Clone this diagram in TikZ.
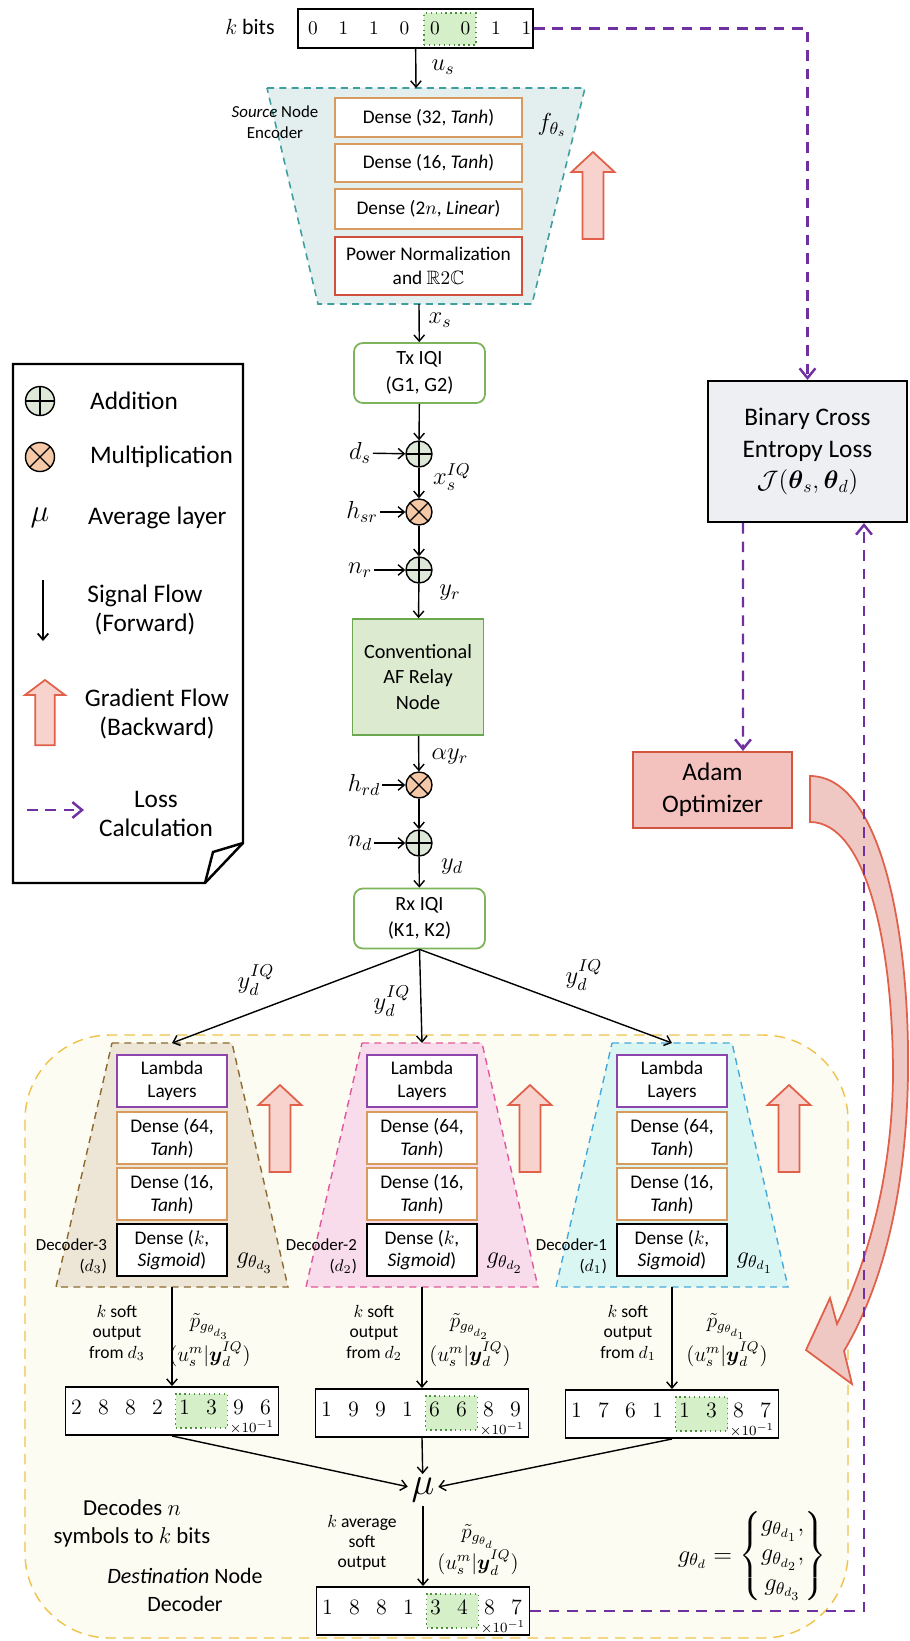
\RequirePackage{fix-cm}
\documentclass[tikz,border=0pt]{standalone}
\usepackage{amsmath}
\usepackage{amssymb}
\usepackage{fontspec}
\setmainfont{Carlito}
\usetikzlibrary{arrows.meta}
\definecolor{encfill}{HTML}{E3EFEF}
\definecolor{encbrd}{HTML}{3F9E9E}
\definecolor{densebrd}{HTML}{D99A5E}
\definecolor{powbrd}{HTML}{D0503C}
\definecolor{lambrd}{HTML}{8E44AD}
\definecolor{iqibrd}{HTML}{7DB35A}
\definecolor{relayfill}{HTML}{DCEBD0}
\definecolor{relaybrd}{HTML}{6AA84F}
\definecolor{addfill}{HTML}{DDE8D8}
\definecolor{mulfill}{HTML}{F5C9A8}
\definecolor{lossclr}{HTML}{7030A0}
\definecolor{bcefill}{HTML}{EEEFF2}
\definecolor{adamfill}{HTML}{F4C2BE}
\definecolor{adambrd}{HTML}{D2553F}
\definecolor{gradfill}{HTML}{F8D3CE}
\definecolor{gradbrd}{HTML}{E0604A}
\definecolor{curvfill}{HTML}{EFC7C3}
\definecolor{decfill}{HTML}{FDFCF2}
\definecolor{decbrd}{HTML}{F0C24A}
\definecolor{dthreefill}{HTML}{EDE6D6}
\definecolor{dthreebrd}{HTML}{8C6A30}
\definecolor{dtwofill}{HTML}{F9DCEB}
\definecolor{dtwobrd}{HTML}{E0589B}
\definecolor{donefill}{HTML}{DAF6F2}
\definecolor{donebrd}{HTML}{45AADB}
\definecolor{hlfill}{HTML}{D5F0C9}
\definecolor{hlbrd}{HTML}{4E8F3E}

\begin{document}
\begin{tikzpicture}[x=0.02cm,y=-0.02cm,
  sig/.style={-{Straight Barb[length=3.5pt,width=6pt]},line width=0.8pt},
  loss/.style={-{Straight Barb[length=5.5pt,width=9pt]},draw=lossclr,line width=1.4pt,dash pattern=on 6pt off 4.5pt},
  lbl/.style={font=\fontsize{14}{16}\selectfont,inner sep=1pt},
  side/.style={font=\fontsize{9.6}{12}\selectfont,inner sep=1pt,align=center},
  legtxt/.style={font=\fontsize{14.4}{17}\selectfont,inner sep=1pt},
  layer/.style={draw=densebrd,fill=white,line width=1pt,align=center,inner sep=1pt,minimum width=3.74cm,font=\fontsize{11}{13.5}\selectfont},
  declayer/.style={layer,minimum width=2.2cm,minimum height=1.04cm,font=\fontsize{11}{13}\selectfont},
  iqi/.style={draw=iqibrd,fill=white,rounded corners=5pt,line width=1pt,minimum width=2.62cm,minimum height=1.2cm,align=center,font=\fontsize{11.5}{15}\selectfont},
  addop/.style={circle,draw,fill=addfill,line width=0.8pt,minimum size=0.52cm,inner sep=0pt,path picture={\draw[line width=0.7pt] (path picture bounding box.north) -- (path picture bounding box.south) (path picture bounding box.west) -- (path picture bounding box.east);}},
  mulop/.style={circle,draw,fill=mulfill,line width=0.8pt,minimum size=0.52cm,inner sep=0pt,path picture={\draw[line width=0.7pt] (path picture bounding box.north west) -- (path picture bounding box.south east) (path picture bounding box.north east) -- (path picture bounding box.south west);}},
  outbox/.style={draw,fill=white,line width=1.1pt,minimum width=4.26cm,minimum height=0.96cm,inner sep=0pt},
  hlbox/.style={draw=hlbrd,fill=hlfill,dotted,line width=0.8pt,minimum width=1.04cm,minimum height=0.68cm,inner sep=0pt},
  digit/.style={font=\fontsize{12.5}{14}\selectfont,inner sep=0pt},
  gradup/.pic={\draw[draw=gradbrd,fill=gradfill,line width=1pt] (0,0) -- (21.5,20) -- (10.5,20) -- (10.5,87) -- (-10.5,87) -- (-10.5,20) -- (-21.5,20) -- cycle;}
]
\useasboundingbox (0,0) rectangle (910,1641);
\fill[white] (0,0) rectangle (910,1641);

\node[draw,line width=1.2pt,minimum width=4.7cm,minimum height=0.78cm,inner sep=0pt] (bits) at (415.5,28.5) {};
\node[hlbox,minimum height=0.64cm] (bitshl) at (450,29) {};
\foreach \bt [count=\i from 0] in {0,1,1,0,0,0,1,1}
  \node[digit,font=\fontsize{11}{13}\selectfont] at (313+30.5*\i,28) {$\bt$};
\node[font=\fontsize{12.5}{14}\selectfont] (kbits) at (250,27) {$k$ bits};

\draw[encbrd,fill=encfill,line width=0.9pt,dash pattern=on 4pt off 3pt] (267,88) -- (585,88) -- (532,304) -- (318,304) -- cycle;
\coordinate (enctop) at (416,88);
\coordinate (encbot) at (419,304);
\node[layer,minimum height=0.78cm] (dense32) at (428.5,117.5) {Dense (32, \textit{Tanh})};
\node[layer,minimum height=0.76cm] (dense16) at (428.5,163) {Dense (16, \textit{Tanh})};
\node[layer,minimum height=0.8cm] (dense2n) at (428.5,209) {Dense (2$n$, \textit{Linear})};
\node[layer,draw=powbrd,minimum height=1.16cm] (pownorm) at (428.5,266) {Power Normalization\\and $\mathbb{R}2\mathbb{C}$};
\node[side] (srclbl) at (275,122) {\textit{Source} Node\\Encoder};
\node[lbl] (fth) at (552,125) {$f_{\theta_s}$};
\pic at (593,152) {gradup};

\draw[sig] (bits) -- (enctop);
\node[lbl] (us) at (443,67) {$u_s$};
\node[iqi] (txiqi) at (419.5,373) {Tx IQI\\(G1, G2)};
\draw[sig] (encbot) -- (txiqi);
\node[lbl] (xs) at (440,320) {$x_s$};

\node[addop] (adds) at (419,454) {};
\node[mulop] (mulsr) at (419,512) {};
\node[addop] (addr) at (419,570) {};
\node[draw=relaybrd,fill=relayfill,line width=1pt,minimum width=2.62cm,minimum height=2.32cm,align=center,font=\fontsize{11.5}{14.7}\selectfont] (relay) at (418,677) {Conventional\\AF Relay\\Node};
\node[mulop] (mulrd) at (419,785) {};
\node[addop] (addd) at (419,843) {};
\node[iqi] (rxiqi) at (419.5,918.5) {Rx IQI\\(K1, K2)};

\draw[sig] (txiqi) -- (adds);
\draw[sig] (adds) -- (mulsr);
\draw[sig] (mulsr) -- (addr);
\draw[sig] (addr) -- (relay);
\draw[sig] (relay) -- (mulrd);
\draw[sig] (mulrd) -- (addd);
\draw[sig] (addd) -- (rxiqi);

\node[lbl] (ds) at (360,453) {$d_s$};
\node[lbl] (hsr) at (362,512) {$h_{sr}$};
\node[lbl] (nr) at (360,570) {$n_r$};
\node[lbl] (hrd) at (364,785) {$h_{rd}$};
\node[lbl] (nd) at (360,843) {$n_d$};
\draw[sig] (ds) -- (adds);
\draw[sig] (hsr) -- (mulsr);
\draw[sig] (nr) -- (addr);
\draw[sig] (hrd) -- (mulrd);
\draw[sig] (nd) -- (addd);
\node[lbl] (xsiq) at (452,477) {$x_s^{IQ}$};
\node[lbl] (yr) at (450,593) {$y_r$};
\node[lbl] (ayr) at (450,757) {$\alpha y_r$};
\node[lbl] (yd) at (452,867) {$y_d$};

\node[draw,fill=bcefill,line width=1.2pt,minimum width=3.98cm,minimum height=2.82cm,align=center,font=\fontsize{14.4}{17.9}\selectfont] (bce) at (807.5,451.5) {Binary Cross\\Entropy Loss\\$\mathcal{J}(\boldsymbol{\theta}_s,\boldsymbol{\theta}_d)$};
\node[draw=adambrd,fill=adamfill,line width=1.2pt,minimum width=3.18cm,minimum height=1.52cm,align=center,font=\fontsize{14.4}{18}\selectfont] (adam) at (712.5,790) {Adam\\Optimizer};

\draw[line width=1.4pt,fill=white] (13,364) -- (243,364) -- (243,843) -- (205,883) -- (13,883) -- cycle;
\draw[line width=1.4pt] (243,843) -- (213,852) -- (205,883);
\node[addop,minimum size=0.58cm] (legadd) at (40,401) {};
\node[legtxt,anchor=west] (legaddtxt) at (88,401) {Addition};
\node[mulop,minimum size=0.58cm] (legmul) at (40,457) {};
\node[legtxt,anchor=west] (legmultxt) at (88,457) {Multiplication};
\node[font=\fontsize{18}{20}\selectfont] (legmu) at (40,518) {$\mu$};
\node[legtxt,anchor=west] (legmutxt) at (86,518) {Average layer};
\coordinate (legsiga) at (43,580);
\coordinate (legsigb) at (43,641);
\draw[sig,line width=1pt] (legsiga) -- (legsigb);
\node[legtxt,align=center] (legsigtxt) at (145,610) {Signal Flow\\(Forward)};
\pic[xscale=0.93,yscale=0.75] at (45,680) {gradup};
\node[legtxt,align=center] (leggradtxt) at (157,714) {Gradient Flow\\(Backward)};
\coordinate (leglossa) at (27,810);
\coordinate (leglossb) at (84,810);
\draw[loss] (leglossa) -- (leglossb);
\node[legtxt,align=center] (leglosstxt) at (156,814) {Loss\\Calculation};

\draw[decbrd,fill=decfill,line width=0.8pt,dash pattern=on 6pt off 4pt,rounded corners=1.7cm] (25,1035) rectangle (848,1638);

\foreach \c/\n/\fc/\bc in {172/3/dthreefill/dthreebrd,422/2/dtwofill/dtwobrd,672/1/donefill/donebrd}{
  \draw[draw=\bc,fill=\fc,line width=0.8pt,dash pattern=on 4pt off 3pt] (\c-60,1043) -- (\c+60,1043) -- (\c+116,1287) -- (\c-116,1287) -- cycle;
  \coordinate (dtop\n) at (\c,1043);
  \coordinate (dbot\n) at (\c,1287);
  \node[declayer,draw=lambrd] (lam\n) at (\c,1081) {Lambda\\Layers};
  \node[declayer] (dsa\n) at (\c,1138) {Dense (64,\\\textit{Tanh})};
  \node[declayer] (dsb\n) at (\c,1194) {Dense (16,\\\textit{Tanh})};
  \node[declayer,draw=black] (sgm\n) at (\c,1250) {Dense ($k$,\\\textit{Sigmoid})};
  \node[side,align=right,anchor=east] (dlbl\n) at (\c-63,1256) {Decoder-\n\\($d_{\n}$)};
  \node[lbl] (gth\n) at (\c+83,1263) {$g_{\theta_{d_{\n}}}$};
}
\foreach \x in {280,530,789}
  \pic at (\x,1085) {gradup};

\draw[sig] (rxiqi.south) -- (dtop3);
\draw[sig] (rxiqi.south) -- (dtop2);
\draw[sig] (rxiqi.south) -- (dtop1);
\node[lbl] (ydiqa) at (256,980) {$y_d^{IQ}$};
\node[lbl] (ydiqb) at (392,1001) {$y_d^{IQ}$};
\node[lbl] (ydiqc) at (584,975) {$y_d^{IQ}$};

\foreach \n/\lx/\px in {3/117/210,2/374/470,1/628/727}{
  \node[side,font=\fontsize{10}{11.5}\selectfont] (ksoft\n) at (\lx,1333) {$k$ soft\\output\\from $d_{\n}$};
  \node[align=center,font=\fontsize{12}{14}\selectfont,inner sep=0pt] (ptil\n) at (\px,1340) {$\tilde{p}_{g_{\theta_{d_{\n}}}}$\\$(u_s^m|\boldsymbol{y}_d^{IQ})$};
}

\foreach \n/\cx/\cy/\ds in {three/172/1411/{2,8,8,2,1,3,9,6},two/422/1413/{1,9,9,1,6,6,8,9},one/672/1414/{1,7,6,1,1,3,8,7},avg/423/1611/{1,8,8,1,3,4,8,7}}{
  \node[outbox] (out\n) at (\cx,\cy) {};
  \node[hlbox] (hl\n) at (\cx+29.5,\cy) {};
  \foreach \dg [count=\i from 0] in \ds
    \node[digit] at (\cx-95.5+27*\i,\cy-4) {$\dg$};
  \node[font=\fontsize{8}{9}\selectfont,inner sep=0pt] at (\cx+80,\cy+16) {$\times10^{-1}$};
}
\draw[sig] (dbot3) -- (outthree);
\draw[sig] (dbot2) -- (outtwo);
\draw[sig] (dbot1) -- (outone);

\node[font=\fontsize{22}{24}\selectfont,inner sep=2pt] (mu) at (423,1490) {$\mu$};
\draw[sig] (outthree.south) -- (mu);
\draw[sig] (outtwo.south) -- (mu);
\draw[sig] (outone.south) -- (mu);
\draw[sig] (mu) -- (outavg);

\node[side,font=\fontsize{10}{11.5}\selectfont] (kavg) at (362,1543) {$k$ average\\soft\\output};
\node[align=center,font=\fontsize{12}{14}\selectfont,inner sep=0pt] (pavg) at (478,1550) {$\tilde{p}_{g_{\theta_d}}$\\$(u_s^m|\boldsymbol{y}_d^{IQ})$};
\node[align=center,font=\fontsize{13}{16}\selectfont] (decn) at (132,1523) {Decodes $n$\\symbols to $k$ bits};
\node[align=center,font=\fontsize{12.5}{16}\selectfont] (destlbl) at (185,1590) {\textit{Destination} Node\\Decoder};
\node[font=\fontsize{14}{16}\selectfont] (gset) at (752,1556) {$g_{\theta_d} = \begin{Bmatrix} g_{\theta_{d_1}},\\ g_{\theta_{d_2}},\\ g_{\theta_{d_3}} \end{Bmatrix}$};

\draw[draw=gradbrd,fill=curvfill,line width=1pt] (810,776) .. controls (880,776) and (910,930) .. (908,1075) .. controls (906,1200) and (880,1290) .. (844,1351) -- (852,1384) -- (806,1350) -- (830,1298) -- (837,1324) .. controls (866,1265) and (892,1180) .. (893,1075) .. controls (893,940) and (865,822) .. (810,822) -- cycle;

\draw[loss] (bits.east) -| (bce.north);
\draw[loss] ([xshift=-1.29cm]bce.south) -- ([xshift=0.61cm]adam.north);
\draw[loss] (outavg.east) -| ([xshift=1.13cm]bce.south);
\end{tikzpicture}
\end{document}
